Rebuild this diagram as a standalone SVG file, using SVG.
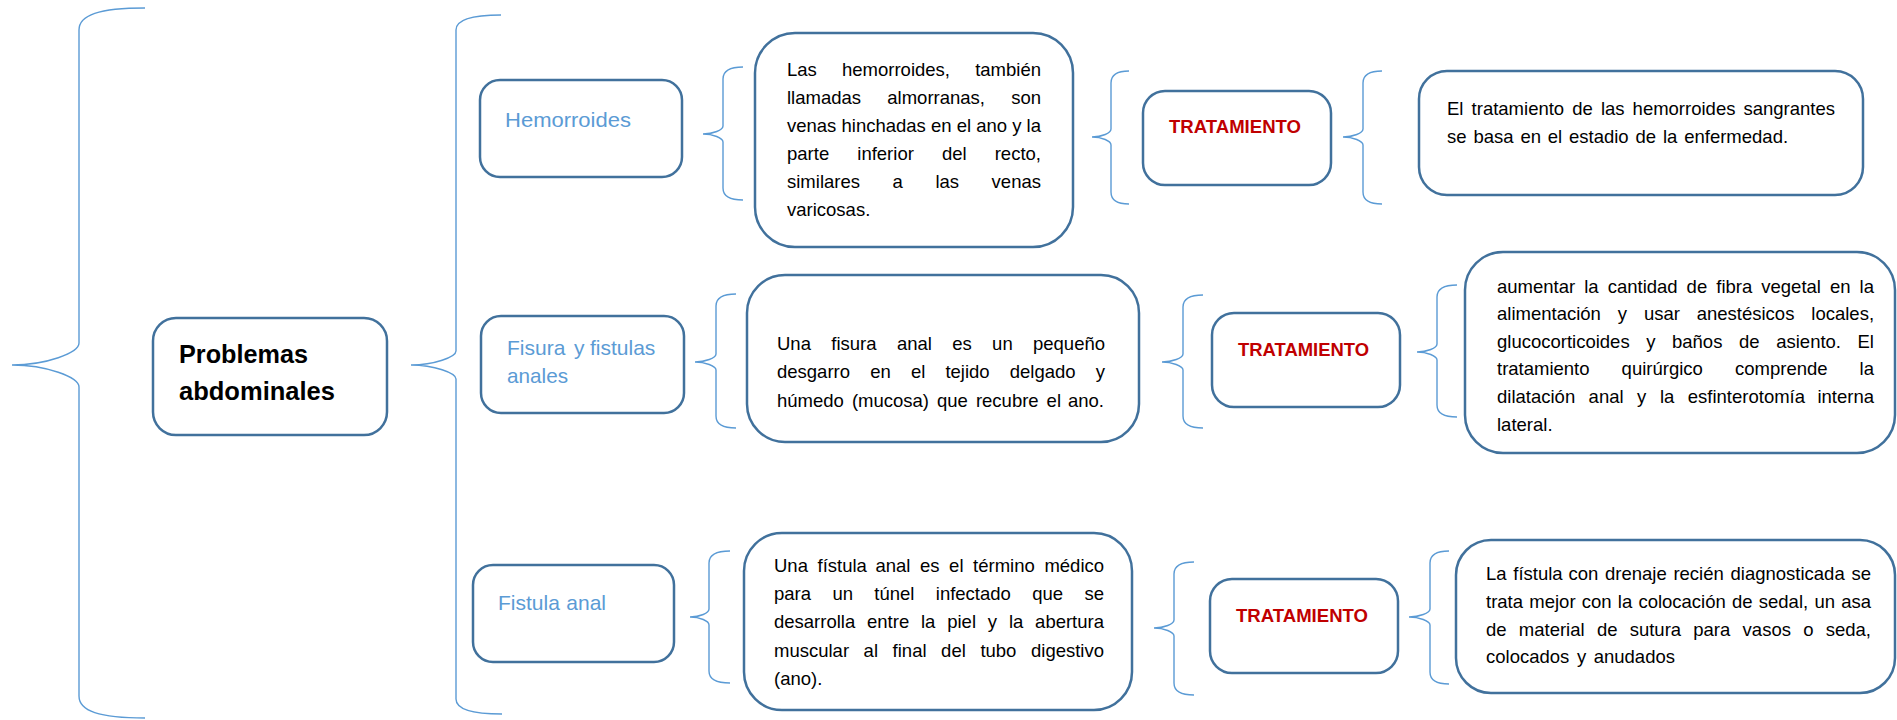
<svg xmlns="http://www.w3.org/2000/svg" width="1897" height="720" viewBox="0 0 1897 720">
<style>
.box{fill:#fff;stroke:#41719C;stroke-width:2.5}
.brace{fill:none;stroke:#5B9BD5;stroke-width:1.4}
.body{font-family:"Liberation Sans",Arial,sans-serif;font-size:18.5px;fill:#000}
.lbl{font-family:"Liberation Sans",Arial,sans-serif;font-size:21px;fill:#5B9BD5}
.trat{font-family:"Liberation Sans",Arial,sans-serif;font-size:18px;font-weight:bold;fill:#C00000}
.main{font-family:"Liberation Sans",Arial,sans-serif;font-size:25px;font-weight:bold;fill:#000}
</style>
<rect width="1897" height="720" fill="#fff"/>
<g id="connectors">
<path class="brace" d="M 145 8 C 99 8, 79 15, 79 30 L 79 343 C 79 353, 46 365, 12 365 C 46 365, 79 377, 79 387 L 79 696 C 79 711, 99 718, 145 718"/>
<path class="brace" d="M 501 15 C 470 15, 456 20, 456 30 L 456 351 C 456 357, 434 365, 411 365 C 434 365, 456 373, 456 379 L 456 699 C 456 709, 470 714, 502 714"/>
<path class="brace" d="M 743 67 C 729 67, 723 71, 723 79 L 723 126 C 723 130, 713 134, 703 134 C 713 134, 723 138, 723 142 L 723 188 C 723 196, 729 200, 743 200"/>
<path class="brace" d="M 1129 71 C 1117 71, 1111 75, 1111 83 L 1111 129 C 1111 133, 1102 137, 1092 137 C 1102 137, 1111 141, 1111 145 L 1111 192 C 1111 200, 1117 204, 1129 204"/>
<path class="brace" d="M 1382 71 C 1369 71, 1363 75, 1363 83 L 1363 129 C 1363 133, 1353 137, 1343 137 C 1353 137, 1363 141, 1363 145 L 1363 192 C 1363 200, 1369 204, 1382 204"/>
<path class="brace" d="M 736 294 C 722 294, 716 298, 716 306 L 716 354 C 716 358, 705 362, 695 362 C 705 362, 716 366, 716 370 L 716 416 C 716 424, 722 428, 736 428"/>
<path class="brace" d="M 1203 295 C 1189 295, 1183 299, 1183 307 L 1183 354 C 1183 358, 1172 362, 1162 362 C 1172 362, 1183 366, 1183 370 L 1183 416 C 1183 424, 1189 428, 1203 428"/>
<path class="brace" d="M 1457 285 C 1443 285, 1437 289, 1437 297 L 1437 344 C 1437 348, 1427 352, 1417 352 C 1427 352, 1437 356, 1437 360 L 1437 405 C 1437 413, 1443 417, 1457 417"/>
<path class="brace" d="M 730 551 C 715 551, 709 555, 709 563 L 709 609 C 709 613, 700 617, 690 617 C 700 617, 709 621, 709 625 L 709 671 C 709 679, 715 683, 730 683"/>
<path class="brace" d="M 1194 562 C 1180 562, 1174 566, 1174 574 L 1174 620 C 1174 624, 1164 628, 1154 628 C 1164 628, 1174 632, 1174 636 L 1174 683 C 1174 691, 1180 695, 1194 695"/>
<path class="brace" d="M 1449 551 C 1436 551, 1430 555, 1430 563 L 1430 609 C 1430 613, 1419 617, 1409 617 C 1419 617, 1430 621, 1430 625 L 1430 672 C 1430 680, 1436 684, 1449 684"/>
</g>
<g id="problemas">
<rect class="box" x="153" y="318" width="234" height="117" rx="23"/>
<text class="main" x="179" y="363" textLength="129" lengthAdjust="spacingAndGlyphs">Problemas</text>
<text class="main" x="179" y="400" textLength="156" lengthAdjust="spacingAndGlyphs">abdominales</text>
</g>
<g id="hemorroides">
<rect class="box" x="480" y="80" width="202" height="97" rx="20"/>
<text class="lbl" x="505" y="127" textLength="126" lengthAdjust="spacingAndGlyphs">Hemorroides</text>
</g>
<g id="hemorroides-def">
<rect class="box" x="755" y="33" width="318" height="214" rx="40"/>
<text class="body" y="76"><tspan x="787">Las </tspan><tspan x="842">hemorroides, </tspan><tspan x="975.2">también</tspan></text>
<text class="body" y="104"><tspan x="787">llamadas </tspan><tspan x="887.3">almorranas, </tspan><tspan x="1011.2">son</tspan></text>
<text class="body" y="132"><tspan x="787">venas </tspan><tspan x="841.5">hinchadas </tspan><tspan x="931">en </tspan><tspan x="956.7">el </tspan><tspan x="976.2">ano </tspan><tspan x="1012.2">y </tspan><tspan x="1026.6">la</tspan></text>
<text class="body" y="160"><tspan x="787">parte </tspan><tspan x="857.3">inferior </tspan><tspan x="941.9">del </tspan><tspan x="994.7">recto,</tspan></text>
<text class="body" y="188"><tspan x="787">similares </tspan><tspan x="892.5">a </tspan><tspan x="935.4">las </tspan><tspan x="991.6">venas</tspan></text>
<text class="body" x="787" y="216">varicosas.</text>
</g>
<g id="tratamiento-1">
<rect class="box" x="1143" y="91" width="188" height="94" rx="22"/>
<text class="trat" x="1169" y="133" textLength="132" lengthAdjust="spacingAndGlyphs">TRATAMIENTO</text>
</g>
<g id="tratamiento-1-def">
<rect class="box" x="1419" y="71" width="444" height="124" rx="28"/>
<text class="body" y="115"><tspan x="1447">El </tspan><tspan x="1471.6">tratamiento </tspan><tspan x="1572.2">de </tspan><tspan x="1600.9">las </tspan><tspan x="1632.6">hemorroides </tspan><tspan x="1743.5">sangrantes</tspan></text>
<text class="body" y="143"><tspan x="1447">se </tspan><tspan x="1473.4">basa </tspan><tspan x="1520.4">en </tspan><tspan x="1547.8">el </tspan><tspan x="1569">estadio </tspan><tspan x="1635.5">de </tspan><tspan x="1662.9">la </tspan><tspan x="1684.2">enfermedad.</tspan></text>
</g>
<g id="fisura">
<rect class="box" x="481" y="316" width="203" height="97" rx="20"/>
<text class="lbl" y="355"><tspan x="507">Fisura </tspan><tspan x="574">y </tspan><tspan x="590">fistulas</tspan></text>
<text class="lbl" x="507" y="383" textLength="61" lengthAdjust="spacingAndGlyphs">anales</text>
</g>
<g id="fisura-def">
<rect class="box" x="747" y="275" width="392" height="167" rx="38"/>
<text class="body" y="350"><tspan x="777">Una </tspan><tspan x="831.3">fisura </tspan><tspan x="896.9">anal </tspan><tspan x="952.2">es </tspan><tspan x="992.1">un </tspan><tspan x="1033">pequeño</tspan></text>
<text class="body" y="378"><tspan x="777">desgarro </tspan><tspan x="870.2">en </tspan><tspan x="910.9">el </tspan><tspan x="945.4">tejido </tspan><tspan x="1009.8">delgado </tspan><tspan x="1095.8">y</tspan></text>
<text class="body" y="407"><tspan x="777">húmedo </tspan><tspan x="851.9">(mucosa) </tspan><tspan x="937">que </tspan><tspan x="975.9">recubre </tspan><tspan x="1046.6">el </tspan><tspan x="1068">ano.</tspan></text>
</g>
<g id="tratamiento-2">
<rect class="box" x="1212" y="313" width="188" height="94" rx="22"/>
<text class="trat" x="1238" y="356" textLength="131" lengthAdjust="spacingAndGlyphs">TRATAMIENTO</text>
</g>
<g id="tratamiento-2-def">
<rect class="box" x="1465" y="252" width="430" height="201" rx="38"/>
<text class="body" y="293"><tspan x="1497">aumentar </tspan><tspan x="1584.2">la </tspan><tspan x="1607.7">cantidad </tspan><tspan x="1686.6">de </tspan><tspan x="1716.3">fibra </tspan><tspan x="1761.3">vegetal </tspan><tspan x="1830">en </tspan><tspan x="1859.6">la</tspan></text>
<text class="body" y="320"><tspan x="1497">alimentación </tspan><tspan x="1617.7">y </tspan><tspan x="1643.9">usar </tspan><tspan x="1696.7">anestésicos </tspan><tspan x="1811.3">locales,</tspan></text>
<text class="body" y="348"><tspan x="1497">glucocorticoides </tspan><tspan x="1646.2">y </tspan><tspan x="1672">baños </tspan><tspan x="1739">de </tspan><tspan x="1776.2">asiento. </tspan><tspan x="1857.5">El</tspan></text>
<text class="body" y="375"><tspan x="1497">tratamiento </tspan><tspan x="1621.6">quirúrgico </tspan><tspan x="1735">comprende </tspan><tspan x="1859.6">la</tspan></text>
<text class="body" y="403"><tspan x="1497">dilatación </tspan><tspan x="1588.6">anal </tspan><tspan x="1637.1">y </tspan><tspan x="1659.9">la </tspan><tspan x="1687.8">esfinterotomía </tspan><tspan x="1817.4">interna</tspan></text>
<text class="body" x="1497" y="431">lateral.</text>
</g>
<g id="fistula">
<rect class="box" x="473" y="565" width="201" height="97" rx="20"/>
<text class="lbl" y="610"><tspan x="498">Fistula </tspan><tspan x="566.3">anal</tspan></text>
</g>
<g id="fistula-def">
<rect class="box" x="744" y="533" width="388" height="177" rx="38"/>
<text class="body" y="572"><tspan x="774">Una </tspan><tspan x="817.5">fístula </tspan><tspan x="875.4">anal </tspan><tspan x="920">es </tspan><tspan x="949.1">el </tspan><tspan x="973.1">término </tspan><tspan x="1044.4">médico</tspan></text>
<text class="body" y="600"><tspan x="774">para </tspan><tspan x="832.4">un </tspan><tspan x="874.3">túnel </tspan><tspan x="935.8">infectado </tspan><tspan x="1032.3">que </tspan><tspan x="1084.5">se</tspan></text>
<text class="body" y="628"><tspan x="774">desarrolla </tspan><tspan x="867">entre </tspan><tspan x="921">la </tspan><tspan x="947.2">piel </tspan><tspan x="987.8">y </tspan><tspan x="1008.9">la </tspan><tspan x="1035.1">abertura</tspan></text>
<text class="body" y="657"><tspan x="774">muscular </tspan><tspan x="863.6">al </tspan><tspan x="892.6">final </tspan><tspan x="941.1">del </tspan><tspan x="980.4">tubo </tspan><tspan x="1031">digestivo</tspan></text>
<text class="body" x="774" y="685">(ano).</text>
</g>
<g id="tratamiento-3">
<rect class="box" x="1210" y="579" width="188" height="94" rx="22"/>
<text class="trat" x="1236" y="622" textLength="132" lengthAdjust="spacingAndGlyphs">TRATAMIENTO</text>
</g>
<g id="tratamiento-3-def">
<rect class="box" x="1456" y="540" width="439" height="153" rx="35"/>
<text class="body" y="580"><tspan x="1486">La </tspan><tspan x="1513.3">fístula </tspan><tspan x="1568.4">con </tspan><tspan x="1605">drenaje </tspan><tspan x="1673.4">recién </tspan><tspan x="1730.5">diagnosticada </tspan><tspan x="1851.4">se</tspan></text>
<text class="body" y="608"><tspan x="1486">trata </tspan><tspan x="1529.3">mejor </tspan><tspan x="1581.7">con </tspan><tspan x="1617.8">la </tspan><tspan x="1638.4">colocación </tspan><tspan x="1732">de </tspan><tspan x="1758.8">sedal, </tspan><tspan x="1814.4">un </tspan><tspan x="1841.2">asa</tspan></text>
<text class="body" y="636"><tspan x="1486">de </tspan><tspan x="1518.8">material </tspan><tspan x="1596.9">de </tspan><tspan x="1629.7">sutura </tspan><tspan x="1693.3">para </tspan><tspan x="1742.6">vasos </tspan><tspan x="1803.2">o </tspan><tspan x="1825.7">seda,</tspan></text>
<text class="body" y="663"><tspan x="1486">colocados </tspan><tspan x="1576.9">y </tspan><tspan x="1593.7">anudados</tspan></text>
</g>
</svg>
